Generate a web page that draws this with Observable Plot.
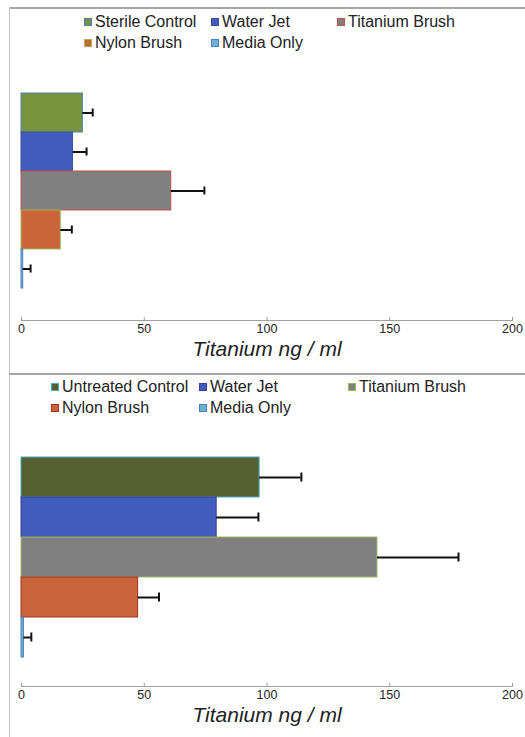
<!DOCTYPE html>
<html><head><meta charset="utf-8">
<script src="https://cdn.jsdelivr.net/npm/d3@7"></script>
<script src="https://cdn.jsdelivr.net/npm/@observablehq/plot@0.6"></script>
<style>
body{margin:0;background:#fff}
#root{position:relative;width:525px;height:737px;overflow:hidden;font-family:"Liberation Sans",Arial,sans-serif;color:#222}
.panel{position:absolute;left:0}
.frameTop{position:absolute;left:9px;top:7px;width:516px;height:0;border-top:2px solid #a6a6a6}
.frameLeft{position:absolute;left:9px;top:7px;width:0;height:730px;border-left:1.5px solid #c4c4c4}
.divider{position:absolute;left:9px;top:373px;width:516px;height:0;border-top:2px solid #a6a6a6}
.leg{position:absolute;font-size:16px;line-height:18px;white-space:nowrap;display:flex;align-items:center}
.sw{display:inline-block;width:8px;height:8px;margin-right:3px;box-sizing:border-box;border:1px solid}
</style></head>
<body><div id="root"></div>
<script>
// ---- Data ----
const categories1 = ["Sterile Control", "Water Jet", "Titanium Brush", "Nylon Brush", "Media Only"];
const means1 = [25, 21, 61, 16, 0.7];
const errors1 = [4, 5.5, 13.5, 4.5, 3];
const fills1 = ["#77933c", "#425cbd", "#808080", "#cb6438", "#6eb0d4"];
const strokes1 = ["#4f81bd", "#3a4fa0", "#c0504d", "#9bbb59", "#4f81bd"];

const categories2 = ["Untreated Control", "Water Jet", "Titanium Brush", "Nylon Brush", "Media Only"];
const means2 = [97, 79.5, 145, 47.5, 1];
const errors2 = [17, 17, 33, 8.5, 3];
const fills2 = ["#556031", "#425cbd", "#808080", "#ca643a", "#6eb0d4"];
const strokes2 = ["#4bacc6", "#3b3f9a", "#9bbb59", "#a0301f", "#4f81bd"];

const xTicks = [0, 50, 100, 150, 200];
const xDomain = [0, 200];
const axisTitle = "Titanium ng / ml";

const root = document.getElementById("root");

function rows(cats, means, errs, fills, strokes) {
  return cats.map((c, i) => ({cat: c, mean: means[i], hi: means[i] + errs[i], fill: fills[i], stroke: strokes[i]}));
}

function panel(data, cats, top, height, bandRange, marginBottom) {
  const chart = Plot.plot({
    width: 525, height, marginLeft: 21, marginRight: 13, marginTop: 40, marginBottom,
    style: {fontFamily: '"Liberation Sans", Arial, sans-serif', fontSize: "12.5px", background: "transparent", color: "#222"},
    x: {domain: xDomain},
    y: {domain: cats, range: bandRange, padding: 0, axis: null},
    color: {type: "identity"},
    marks: [
      Plot.frame({anchor: "bottom", stroke: "#a0a0a0"}),
      Plot.axisX(xTicks, {tickSize: 3, dy: -3, tickPadding: 4, stroke: "#999", fill: "#222", label: null}),
      Plot.barX(data, {x: "mean", y: "cat", fill: d => d.fill, stroke: d => d.stroke, strokeWidth: 1}),
      Plot.ruleY(data, {y: "cat", x1: "mean", x2: "hi", stroke: "#111", strokeWidth: 2}),
      Plot.tickX(data, {x: "hi", y: "cat", insetTop: 15.5, insetBottom: 15.5, stroke: "#111", strokeWidth: 2}),
      Plot.text([axisTitle], {text: d => d, frameAnchor: "bottom", dy: 35, fontSize: 21, fontStyle: "italic", fill: "#222"})
    ]
  });
  chart.classList.add("panel");
  chart.style.top = top + "px";
  root.appendChild(chart);
}

function legend(cats, fills, strokes, cols, rowYs) {
  // layout: first three items on row 0, rest on row 1
  cats.forEach((c, i) => {
    const r = i < 3 ? 0 : 1;
    const col = i < 3 ? i : i - 3;
    const el = document.createElement("div");
    el.className = "leg";
    el.style.left = cols[col] + "px";
    el.style.top = (rowYs[r] - 9) + "px";
    const sw = document.createElement("span");
    sw.className = "sw";
    sw.style.background = fills[i];
    sw.style.borderColor = strokes[i];
    el.appendChild(sw);
    el.appendChild(document.createTextNode(c));
    root.appendChild(el);
  });
}

panel(rows(categories1, means1, errors1, fills1, strokes1), categories1, 0, 370, [91, 290], 50);
panel(rows(categories2, means2, errors2, fills2, strokes2), categories2, 370, 367, [86, 287], 51);

legend(categories1, fills1, strokes1, [84, 211, 337], [22, 43]);
legend(categories2, fills2, strokes2, [51, 199, 348], [387, 408]);

for (const cls of ["frameTop", "frameLeft", "divider"]) {
  const d = document.createElement("div");
  d.className = cls;
  root.appendChild(d);
}
</script>
</body></html>
